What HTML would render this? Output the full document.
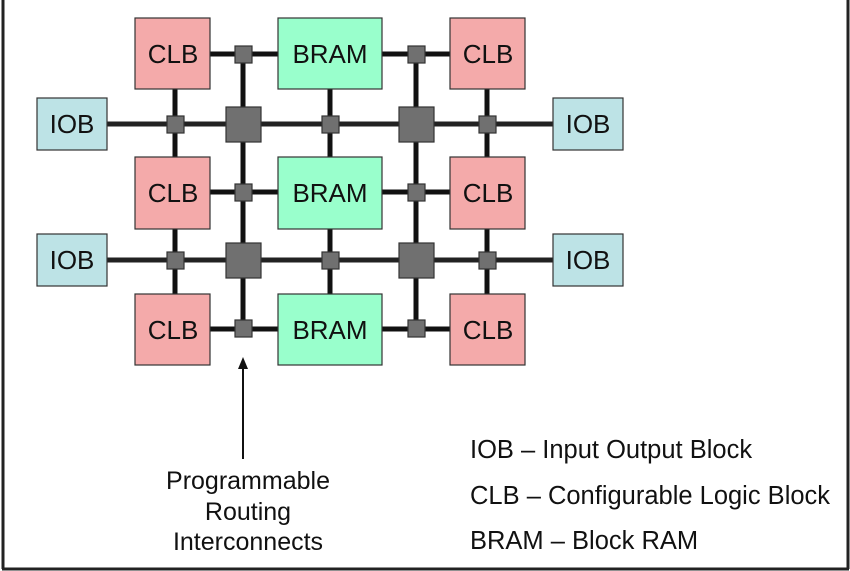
<!DOCTYPE html>
<html><head><style>
html,body{margin:0;padding:0;background:#fff;}
svg{display:block;}
text{font-family:"Liberation Sans",Arial,sans-serif;fill:#111;}
</style></head><body>
<svg width="850" height="571" viewBox="0 0 850 571" xmlns="http://www.w3.org/2000/svg">
<rect x="0" y="0" width="850" height="571" fill="#fff"/>
<line x1="3" y1="0" x2="3" y2="569" stroke="#222" stroke-width="3"/>
<line x1="848" y1="0" x2="848" y2="569" stroke="#222" stroke-width="3"/>
<line x1="2" y1="569" x2="849" y2="569" stroke="#222" stroke-width="3"/>
<g stroke="#111" stroke-width="5">
<line x1="210" y1="54" x2="278" y2="54"/><line x1="382" y1="54" x2="450" y2="54"/>
<line x1="210" y1="192" x2="278" y2="192"/><line x1="382" y1="192" x2="450" y2="192"/>
<line x1="210" y1="329" x2="278" y2="329"/><line x1="382" y1="329" x2="450" y2="329"/>
<line x1="107" y1="124" x2="553" y2="124" stroke="#222"/>
<line x1="107" y1="260" x2="553" y2="260" stroke="#222"/>
<line x1="175" y1="89" x2="175" y2="157"/><line x1="175" y1="229" x2="175" y2="294"/>
<line x1="330" y1="89" x2="330" y2="157"/><line x1="330" y1="229" x2="330" y2="294"/>
<line x1="487" y1="89" x2="487" y2="157"/><line x1="487" y1="229" x2="487" y2="294"/>
<line x1="243" y1="54" x2="243" y2="329"/><line x1="416" y1="54" x2="416" y2="329"/>
</g>
<g stroke="#333" stroke-width="1.2">
<g fill="#f4aaaa">
<rect x="135" y="18" width="75" height="71"/><rect x="450" y="18" width="75" height="71"/>
<rect x="135" y="157" width="75" height="72"/><rect x="450" y="157" width="75" height="72"/>
<rect x="135" y="294" width="75" height="71"/><rect x="450" y="294" width="75" height="71"/>
</g>
<g fill="#99ffcc">
<rect x="278" y="18" width="104" height="71"/><rect x="278" y="157" width="104" height="72"/><rect x="278" y="294" width="104" height="71"/>
</g>
<g fill="#bde3e6">
<rect x="37" y="98" width="70" height="52"/><rect x="37" y="234" width="70" height="52"/>
<rect x="553" y="98" width="70" height="52"/><rect x="553" y="234" width="70" height="52"/>
</g>
<g fill="#707070">
<rect x="235" y="46" width="17" height="17"/><rect x="408" y="46" width="17" height="17"/>
<rect x="235" y="184" width="17" height="17"/><rect x="408" y="184" width="17" height="17"/>
<rect x="235" y="320" width="17" height="17"/><rect x="408" y="320" width="17" height="17"/>
<rect x="167" y="116" width="17" height="17"/><rect x="322" y="116" width="17" height="17"/><rect x="479" y="116" width="17" height="17"/>
<rect x="167" y="252" width="17" height="17"/><rect x="322" y="252" width="17" height="17"/><rect x="479" y="252" width="17" height="17"/>
<rect x="226" y="107" width="35" height="35"/><rect x="399" y="107" width="35" height="35"/>
<rect x="226" y="243" width="35" height="35"/><rect x="399" y="243" width="35" height="35"/>
</g>
</g>
<g font-size="26" text-anchor="middle">
<text x="173" y="63">CLB</text><text x="488" y="63">CLB</text>
<text x="330" y="63">BRAM</text><text x="330" y="202">BRAM</text><text x="330" y="339">BRAM</text>
<text x="173" y="202">CLB</text><text x="488" y="202">CLB</text>
<text x="173" y="339">CLB</text><text x="488" y="339">CLB</text>
<text x="72" y="133">IOB</text><text x="72" y="269">IOB</text>
<text x="588" y="133">IOB</text><text x="588" y="269">IOB</text>
</g>
<line x1="243" y1="459" x2="243" y2="366" stroke="#111" stroke-width="2"/>
<polygon points="243,357 238,369 248,369" fill="#111"/>
<g font-size="25" text-anchor="middle">
<text x="248" y="489">Programmable</text>
<text x="248" y="520">Routing</text>
<text x="248" y="550">Interconnects</text>
</g>
<g font-size="25.5">
<text x="470" y="458">IOB – Input Output Block</text>
<text x="470" y="504">CLB – Configurable Logic Block</text>
<text x="470" y="549">BRAM – Block RAM</text>
</g>
</svg>
</body></html>
